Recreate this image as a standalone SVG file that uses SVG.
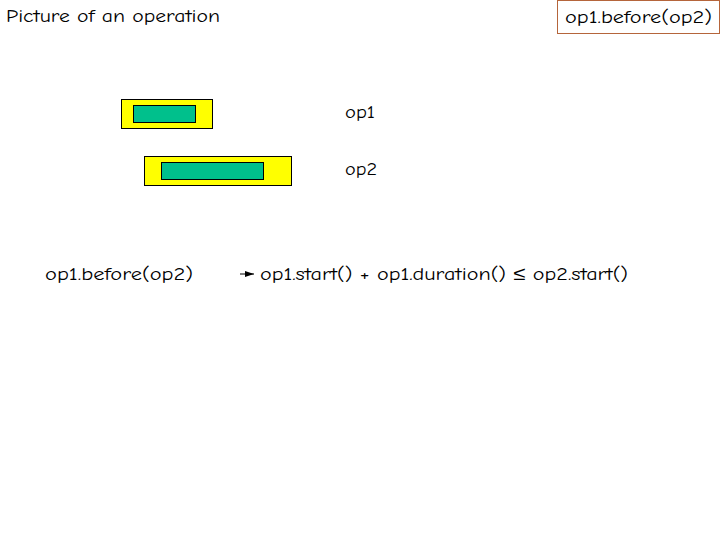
<svg xmlns="http://www.w3.org/2000/svg" width="720" height="540" viewBox="0 0 720 540">
<style>
text{font-family:"Comic Neue","Liberation Sans",sans-serif;font-size:19px;fill:#000}
.y{fill:#ffff00;stroke:#000;stroke-width:1}
.g{fill:#00c08c;stroke:#000;stroke-width:1}
</style>
<defs><marker id="a" markerUnits="userSpaceOnUse" markerWidth="9" markerHeight="6" refX="9" refY="3" orient="auto"><path d="M0,0L9,3L0,6z" fill="#000"/></marker></defs>
<rect width="720" height="540" fill="#fff"/>
<text x="6" y="22" textLength="214" lengthAdjust="spacingAndGlyphs">Picture of an operation</text>
<g id="title-box"><rect x="557.5" y="0.5" width="162" height="33" fill="#fff" stroke="#b5653b"/><text x="565" y="23" textLength="147" lengthAdjust="spacingAndGlyphs">op1.before(op2)</text></g>
<g id="op1-bar"><rect class="y" x="121.5" y="99.5" width="91" height="29"/><rect class="g" x="133.5" y="105.5" width="62" height="17"/></g>
<g id="op2-bar"><rect class="y" x="144.5" y="156.5" width="147" height="29"/><rect class="g" x="161.5" y="162.5" width="102" height="17"/></g>
<text x="345" y="118" textLength="30" lengthAdjust="spacingAndGlyphs">op1</text>
<text x="345" y="175" textLength="32" lengthAdjust="spacingAndGlyphs">op2</text>
<g id="lhs"><text x="45" y="280" textLength="148" lengthAdjust="spacingAndGlyphs">op1.before(op2)</text></g>
<g id="rhs"><text x="260" y="280" textLength="368" lengthAdjust="spacingAndGlyphs">op1.start() + op1.duration() ≤ op2.start()</text></g>
<g id="connectors"><line x1="240" y1="274" x2="254" y2="274" stroke="#000" marker-end="url(#a)"/></g>
</svg>
